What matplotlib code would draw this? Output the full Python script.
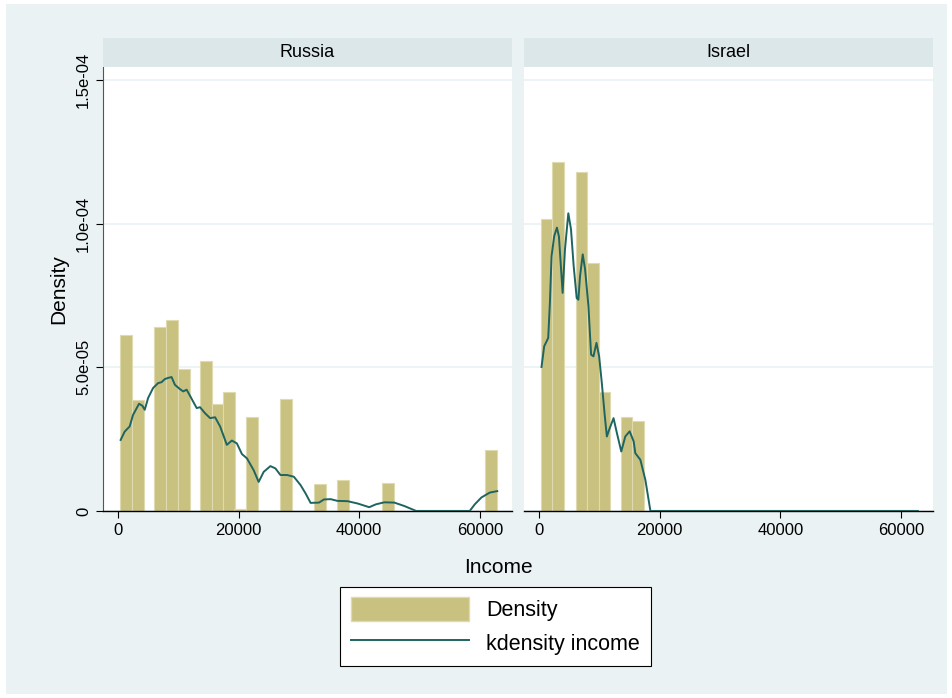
import matplotlib
matplotlib.use("Agg")
import matplotlib.pyplot as plt
from matplotlib.patches import Rectangle
from matplotlib.lines import Line2D

BAR_W = 1950
BG = "#eaf2f3"
STRIP = "#dce7ea"
BAR_COLOR = "#c9c17f"
LINE_COLOR = "#1e6461"

# Russia histogram
ru_centers = [1389, 3361, 7028, 9000, 10972, 14639, 16528, 18389, 20278, 22194,
              27861, 33500, 37333, 44806, 61861]
ru_heights = [6.14, 3.87, 6.41, 6.63, 4.94, 5.22, 3.73, 4.13, 0.05, 3.26,
              3.90, 0.93, 1.06, 0.97, 2.11]
# Russia kdensity
ru_kx = [444, 1111, 1944, 2500, 3500, 4056, 4444, 5000, 5833, 6667, 7222, 7778, 8333,
         8889, 9444, 10278, 10833, 11389, 11944, 13056, 13611, 14444, 15278, 16111,
         16944, 18056, 18889, 19722, 20556, 21389, 22500, 23333, 24167, 25278, 26111,
         26944, 28056, 29167, 30278, 31111, 31944, 33333, 34167, 35278, 36389, 38056,
         39722, 41667, 42778, 44167, 45833, 47500, 49444, 58333, 59167, 60278, 61667, 62889]
ru_ky = [2.47, 2.76, 2.94, 3.34, 3.73, 3.66, 3.52, 3.93, 4.28, 4.45, 4.48, 4.59, 4.63,
         4.66, 4.39, 4.24, 4.16, 4.22, 4.01, 3.58, 3.61, 3.40, 3.23, 3.26,
         2.94, 2.30, 2.45, 2.35, 1.98, 1.83, 1.42, 1.01, 1.36, 1.56, 1.48,
         1.25, 1.25, 1.19, 0.90, 0.61, 0.28, 0.29, 0.40, 0.41, 0.35, 0.34,
         0.26, 0.13, 0.23, 0.30, 0.29, 0.17, 0.0, 0.0, 0.23, 0.47, 0.64, 0.69]

# Israel histogram
il_centers = [1222, 3167, 7028, 8972, 10833, 14472, 16417]
il_heights = [10.15, 12.15, 11.78, 8.64, 4.14, 3.27, 3.13]
# Israel kdensity
il_kx = [389, 833, 1500, 1778, 2056, 2500, 2944, 3278, 3889, 4278, 4833, 5278, 5722,
         6222, 6500, 6778, 7222, 7611, 8167, 8611, 9000, 9500, 9944, 10389, 10833,
         11222, 11611, 12333, 12889, 13611, 14278, 15000, 15667, 15944, 16778, 17611,
         18444, 62800]
il_ky = [5.01, 5.73, 6.02, 7.24, 8.87, 9.57, 9.86, 9.55, 7.59, 9.10, 10.36, 9.80, 8.52,
         7.41, 7.35, 8.17, 8.93, 8.41, 7.13, 5.44, 5.38, 5.85, 5.38, 4.45, 3.41,
         2.59, 2.83, 3.23, 2.71, 2.07, 2.59, 2.77, 2.42, 2.01, 1.78, 1.08,
         0.0, 0.0]

plt.rcParams["font.family"] = ["Liberation Sans", "DejaVu Sans"]
fig = plt.figure(figsize=(9.53, 6.98), dpi=100, facecolor="white")
fig.patches.append(Rectangle((0.006, 0.006), 0.988, 0.988, transform=fig.transFigure,
                             facecolor=BG, edgecolor="none", zorder=-1))

panels = [("Russia", 0.108, ru_centers, ru_heights, ru_kx, ru_ky),
          ("Israel", 0.550, il_centers, il_heights, il_kx, il_ky)]
bottom, height, width = 0.268, 0.636, 0.429
for i, (name, left, cen, hts, kx, ky) in enumerate(panels):
    ax = fig.add_axes([left, bottom, width, height])
    ax.set_facecolor("white")
    ax.bar(cen, [h * 1e-5 for h in hts], width=BAR_W, color=BAR_COLOR,
           edgecolor="#e0dab0", linewidth=0.8, zorder=2)
    ax.plot(kx, [v * 1e-5 for v in ky], color=LINE_COLOR, lw=1.4, zorder=3)
    ax.set_xlim(-2490, 65300)
    ax.set_ylim(0, 1.545e-4)
    ax.set_yticks([0, 5e-5, 1e-4, 1.5e-4])
    ax.set_xticks([0, 20000, 40000, 60000])
    ax.set_xticklabels(["0", "20000", "40000", "60000"], fontsize=12)
    ax.grid(axis="y", color=BG, lw=1.2, zorder=0)
    for s in ["top", "right"]:
        ax.spines[s].set_visible(False)
    ax.spines["bottom"].set_linewidth(1.0)
    ax.tick_params(axis="x", length=5, direction="out")
    if i == 0:
        ax.set_yticklabels(["0", "5.0e-05", "1.0e-04", "1.5e-04"], fontsize=12,
                           rotation=90, va="center")
        ax.spines["left"].set_color("#555555")
        ax.tick_params(axis="y", length=5)
        ax.set_ylabel("Density", fontsize=15, labelpad=6)
    else:
        ax.spines["left"].set_visible(False)
        ax.tick_params(axis="y", length=0, labelleft=False)
    sax = fig.add_axes([left, bottom + height, width, 0.0415])
    sax.set_facecolor(STRIP)
    sax.set_xticks([]); sax.set_yticks([])
    for s in sax.spines.values():
        s.set_visible(False)
    sax.text(0.5, 0.5, name, ha="center", va="center", fontsize=13, transform=sax.transAxes)

fig.text(0.523, 0.187, "Income", ha="center", va="center", fontsize=15)

handles = [Rectangle((0, 0), 1, 1, facecolor=BAR_COLOR, edgecolor="#e0dab0"),
           Line2D([0], [0], color=LINE_COLOR, lw=1.4)]
leg = fig.legend(handles, ["Density", "kdensity income"], loc="center",
                 bbox_to_anchor=(0.52, 0.103), fontsize=15.5, frameon=True,
                 fancybox=False, edgecolor="black", handlelength=5.5, handleheight=1.3,
                 borderpad=0.5, labelspacing=0.45, framealpha=1)
leg.get_frame().set_linewidth(0.8)
leg.get_frame().set_facecolor("white")

fig.savefig("out.png", dpi=100, facecolor="white")
